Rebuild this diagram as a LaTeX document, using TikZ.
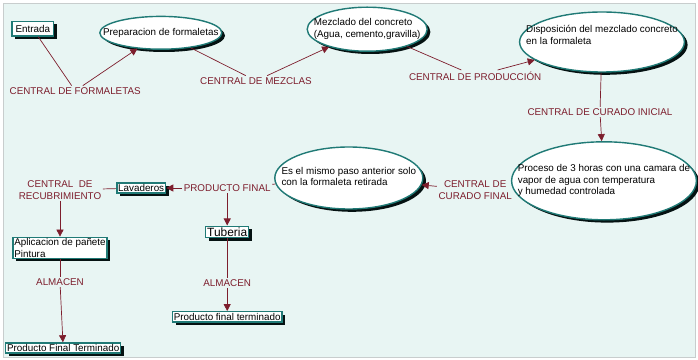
\documentclass[tikz,border=0pt]{standalone}
\usepackage{fontspec}
\setmainfont{Liberation Sans}
\usetikzlibrary{shapes.geometric,arrows.meta,shadows}

\definecolor{fondo}{RGB}{232,245,243}
\definecolor{borde}{RGB}{200,205,205}
\definecolor{azulverde}{RGB}{32,122,118}
\definecolor{rojoenlace}{RGB}{125,30,45}
\newcommand{\letrachica}{\fontsize{7}{8}\selectfont}
% texto de ancho cero, para que la elipse tome solo su tamano minimo
\newcommand{\dentro}[1]{\makebox[0pt]{\begin{tabular}{@{}l@{}}#1\end{tabular}}}

\tikzset{
  sombra/.style={drop shadow={shadow xshift=0.08cm,shadow yshift=-0.07cm,fill=black!85!azulverde,opacity=1}},
  concepto/.style={ellipse,draw=azulverde,line width=1pt,fill=white,sombra,inner sep=0pt,font=\letrachica},
  caja/.style={rectangle,draw=azulverde,line width=1pt,fill=white,sombra,inner sep=1pt,align=left,font=\letrachica},
  enlace/.style={text=rojoenlace,inner sep=1pt,align=center,font=\letrachica},
  linea/.style={draw=rojoenlace,line width=0.5pt},
  flecha/.style={linea,-{Triangle[width=5pt,length=5pt]}}
}

\begin{document}
\begin{tikzpicture}

\useasboundingbox (0,0) rectangle (17.45,9);
\fill [white] (0,0) rectangle (17.45,9);
\filldraw [fill=fondo,draw=borde] (0.08,0.08) rectangle (17.37,8.92);

% conceptos
  \node [caja,inner xsep=2.5pt,inner ysep=2.5pt] (entrada) at (0.82,8.28) {Entrada};
  \node [concepto,minimum width=3.05cm,minimum height=0.82cm] (prep) at (4.02,8.18) {\dentro{Preparacion de formaletas}};
  \node [concepto,minimum width=3.0cm,minimum height=1.1cm] (mezc) at (9.18,8.27) {\dentro{Mezclado del concreto\\(Agua, cemento,gravilla)}};
  \node [concepto,minimum width=4.12cm,minimum height=1.5cm] (disp) at (15.05,7.95) {\dentro{Disposición del mezclado concreto\\en la formaleta\\ \strut}};
  \node [concepto,minimum width=4.62cm,minimum height=1.95cm] (proc) at (15.1,4.48) {\dentro{Proceso de 3 horas con una camara de\\vapor de agua con temperatura\\y humedad controlada}};
  \node [concepto,minimum width=3.7cm,minimum height=1.55cm] (mismo) at (8.72,4.55) {\dentro{Es el mismo paso anterior solo\\con la formaleta retirada}};
  \node [caja] (lav) at (3.53,4.3) {Lavaderos};
  \node [caja,font=\fontsize{8.5}{9}\selectfont] (tub) at (5.68,3.2) {Tuberia};
  \node [caja] (apl) at (1.5,2.8) {Aplicacion de pañete\\Pintura};
  \node [caja] (pft1) at (1.58,0.3) {Producto Final Terminado};
  \node [caja] (pft2) at (5.68,1.08) {Producto final terminado};

% enlaces
  \node [enlace] (cform) at (1.88,6.73) {CENTRAL DE FORMALETAS};
  \node [enlace] (cmez) at (6.4,6.98) {CENTRAL DE MEZCLAS};
  \node [enlace] (cprod) at (11.88,7.1) {CENTRAL DE PRODUCCIÓN};
  \node [enlace] (cci) at (15.0,6.2) {CENTRAL DE CURADO INICIAL};
  \node [enlace] (ccf) at (11.88,4.25) {CENTRAL DE\\CURADO FINAL};
  \node [enlace] (pf) at (5.68,4.3) {PRODUCTO FINAL};
  \node [enlace] (crec) at (1.5,4.25) {CENTRAL~~DE\\RECUBRIMIENTO};
  \node [enlace] (alm1) at (1.5,1.95) {ALMACEN};
  \node [enlace] (alm2) at (5.68,1.93) {ALMACEN};

  \draw [linea] (entrada) -- (cform); \draw [flecha] (cform) -- (prep);
  \draw [linea] (prep) -- (cmez); \draw [flecha] (cmez) -- (mezc);
  \draw [linea] (mezc) -- (cprod); \draw [flecha] (cprod) -- (disp);
  \draw [linea] (disp) -- (cci); \draw [flecha] (cci) -- (proc);
  \draw [flecha] (ccf) -- (mismo);
  \draw [linea] (mismo) -- (pf); \draw [flecha] (pf) -- (lav); \draw [flecha] (pf) -- (tub);
  \draw [linea] (lav) -- (crec); \draw [flecha] (crec) -- (apl);
  \draw [linea] (apl) -- (alm1); \draw [flecha] (alm1) -- (pft1);
  \draw [linea] (tub) -- (alm2); \draw [flecha] (alm2) -- (pft2);

\end{tikzpicture}
\end{document}
